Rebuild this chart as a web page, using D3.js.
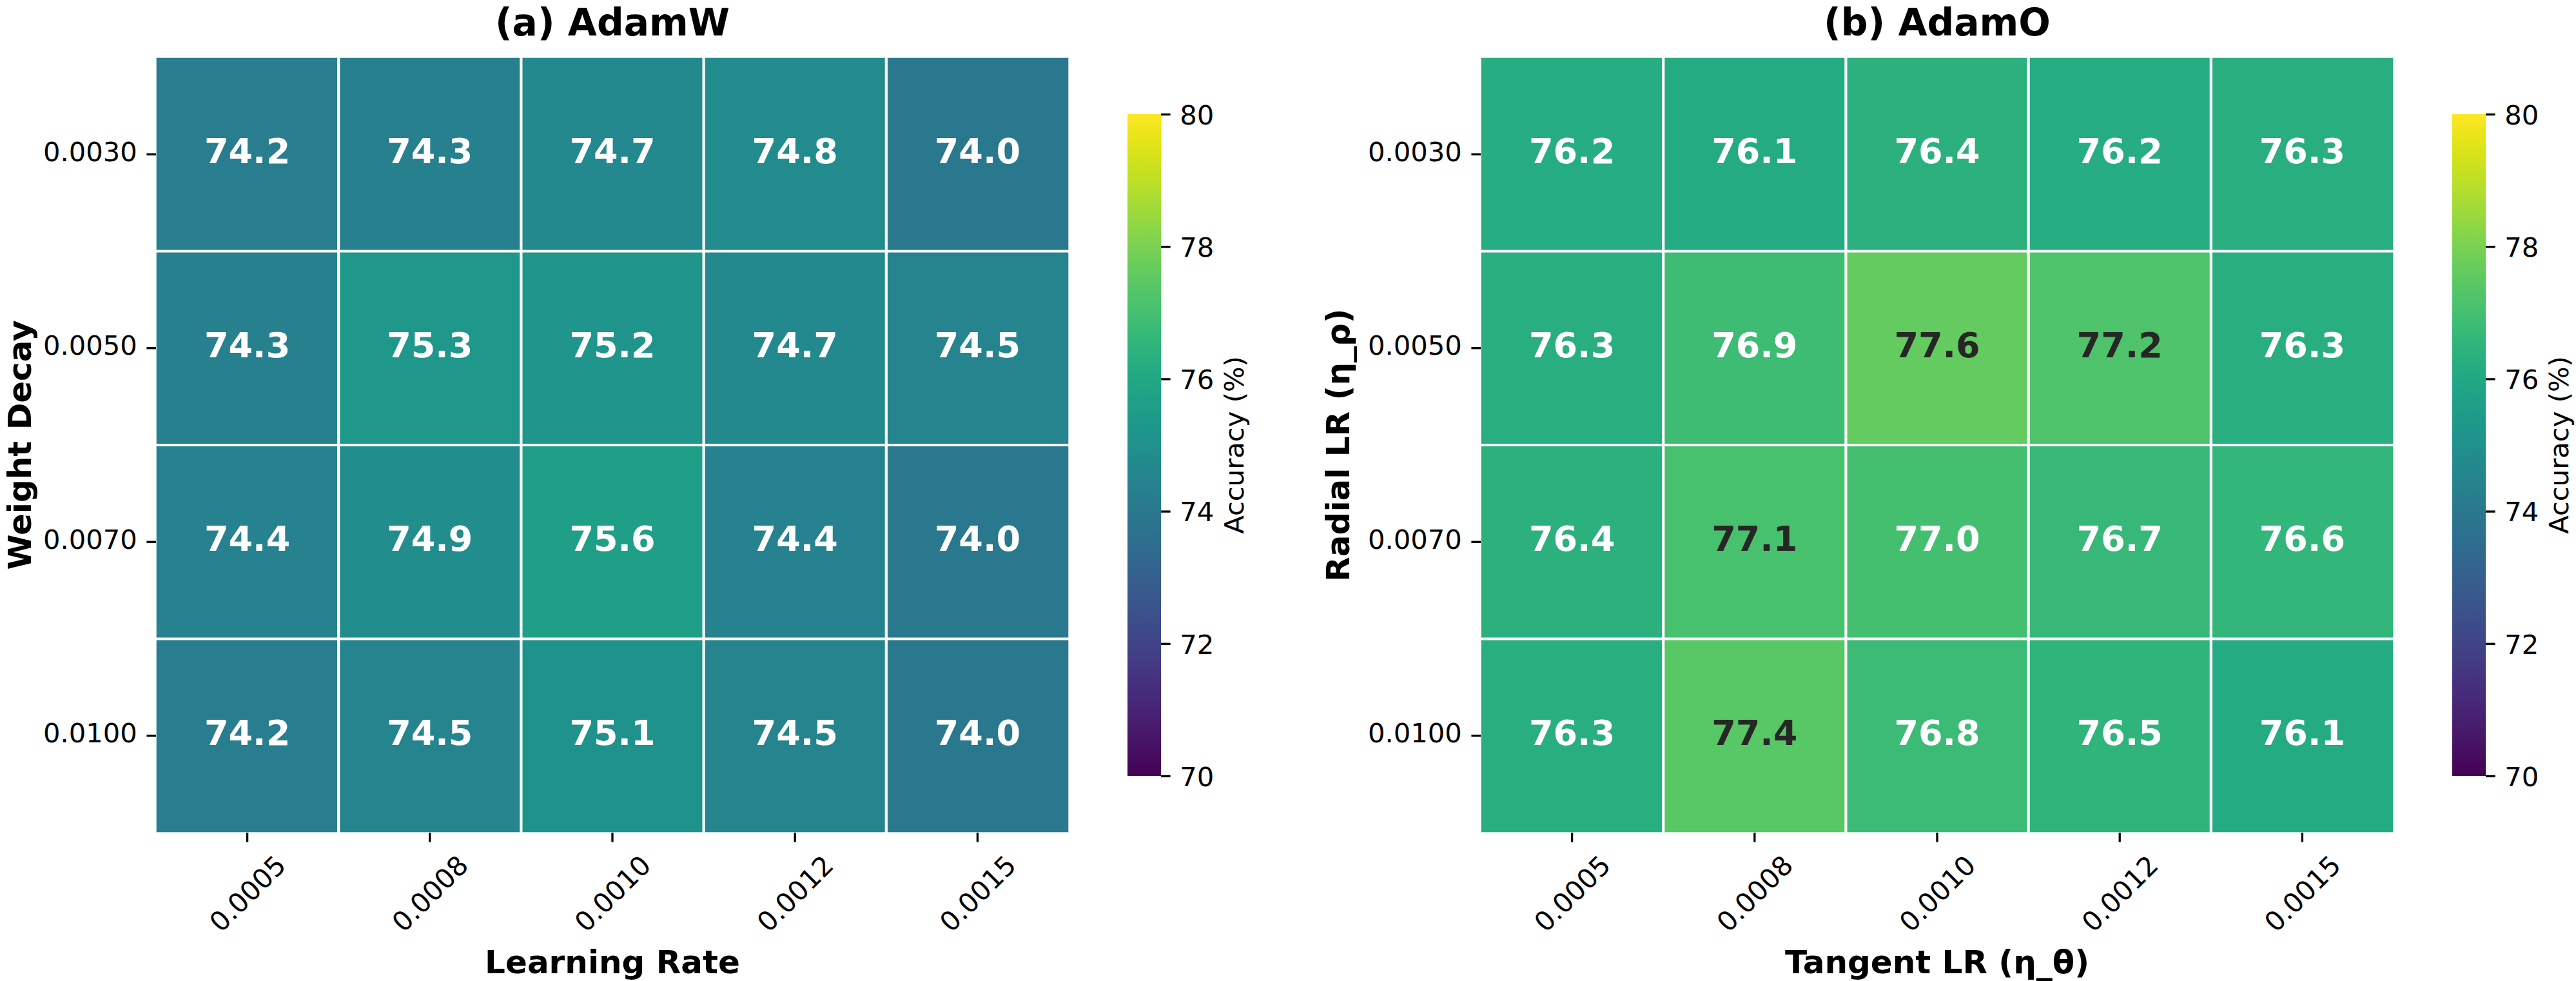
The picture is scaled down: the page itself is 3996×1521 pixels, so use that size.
<!DOCTYPE html>
<html>
<head>
<meta charset="utf-8">
<script src="https://cdn.jsdelivr.net/npm/d3@7"></script>
<style>
  body { margin: 0; background: #fff; }
  svg { display: block; font-family: "DejaVu Sans", sans-serif; }
</style>
</head>
<body>
<div id="chart"></div>
<script>
// Data
let lrLabels = ["0.0005", "0.0008", "0.0010", "0.0012", "0.0015"];
let wdLabels = ["0.0030", "0.0050", "0.0070", "0.0100"];

let adamW = [
    [74.2, 74.3, 74.7, 74.8, 74.0],
    [74.3, 75.3, 75.2, 74.7, 74.5],
    [74.4, 74.9, 75.6, 74.4, 74.0],
    [74.2, 74.5, 75.1, 74.5, 74.0]
];

let adamO = [
    [76.2, 76.1, 76.4, 76.2, 76.3],
    [76.3, 76.9, 77.6, 77.2, 76.3],
    [76.4, 77.1, 77.0, 76.7, 76.6],
    [76.3, 77.4, 76.8, 76.5, 76.1]
];

let colorTicks = [70, 72, 74, 76, 78, 80];
let colorDomain = [70, 80];

// Figure properties (px, figure rendered at 300 dpi)
let width = 3996;
let height = 1521;
let tickLen = 14.6;
let tickFont = 41.7;

let svg = d3.select("#chart")
    .append("svg")
    .attr("width", width)
    .attr("height", height);

let colorScale = d3.scaleSequential(d3.interpolateViridis).domain(colorDomain);

// seaborn style: dark text on light cells
function luminance(c) {
    let rgb = d3.rgb(c);
    let lin = [rgb.r, rgb.g, rgb.b].map((v) => {
        v = v / 255;
        return v <= 0.03928 ? v / 12.92 : Math.pow((v + 0.055) / 1.055, 2.4);
    });
    return 0.2126 * lin[0] + 0.7152 * lin[1] + 0.0722 * lin[2];
}

// shared gradient for both colorbars
let defs = svg.append("defs");
let grad = defs.append("linearGradient")
    .attr("id", "viridis")
    .attr("x1", 0).attr("y1", 1)
    .attr("x2", 0).attr("y2", 0);
d3.range(0, 1.0001, 0.02).forEach((t) => {
    grad.append("stop")
        .attr("offset", t)
        .attr("stop-color", d3.interpolateViridis(t));
});

function drawPanel(p) {
    let g = svg.append("g");

    let x = d3.scaleBand()
        .domain(d3.range(p.xLabels.length))
        .range([p.left, p.left + 1416]);
    let y = d3.scaleBand()
        .domain(d3.range(p.yLabels.length))
        .range([89, 1291]);

    let cells = [];
    p.values.forEach((row, i) => {
        row.forEach((v, j) => cells.push({ row: i, col: j, value: v }));
    });

    g.selectAll("rect.cell")
        .data(cells)
        .join("rect")
        .attr("class", "cell")
        .attr("x", (d) => x(d.col))
        .attr("y", (d) => y(d.row))
        .attr("width", x.bandwidth())
        .attr("height", y.bandwidth())
        .attr("fill", (d) => colorScale(d.value));

    // white grid lines between cells
    d3.range(1, p.xLabels.length).forEach((j) => {
        g.append("line")
            .attr("x1", x(j)).attr("x2", x(j))
            .attr("y1", 89).attr("y2", 1291)
            .attr("stroke", "#fff").attr("stroke-width", 4.2);
    });
    d3.range(1, p.yLabels.length).forEach((i) => {
        g.append("line")
            .attr("x1", p.left).attr("x2", p.left + 1416)
            .attr("y1", y(i)).attr("y2", y(i))
            .attr("stroke", "#fff").attr("stroke-width", 4.2);
    });
    g.append("rect")
        .attr("x", p.left).attr("y", 89)
        .attr("width", 1416).attr("height", 1202)
        .attr("fill", "none")
        .attr("stroke", "#fff").attr("stroke-opacity", 0.7)
        .attr("stroke-width", 2);

    // annotations
    g.selectAll("text.annot")
        .data(cells)
        .join("text")
        .attr("class", "annot")
        .attr("x", (d) => x(d.col) + x.bandwidth() / 2)
        .attr("y", (d) => y(d.row) + y.bandwidth() / 2 + 14)
        .attr("text-anchor", "middle")
        .style("font-size", "54px")
        .style("font-weight", "bold")
        .attr("fill", (d) => luminance(colorScale(d.value)) > 0.403 ? "#262626" : "#ffffff")
        .text((d) => d.value.toFixed(1));

    // y axis
    let yAxis = g.append("g")
        .attr("transform", `translate(${p.left},0)`)
        .call(d3.axisLeft(y).tickSize(tickLen).tickPadding(tickLen).tickFormat((i) => p.yLabels[i]));
    yAxis.select(".domain").remove();
    yAxis.selectAll("line").attr("stroke", "#000").attr("stroke-width", 3.3);
    yAxis.selectAll("text")
        .attr("dy", null)
        .attr("y", 10.5)
        .attr("fill", "#000")
        .style("font-size", tickFont + "px")
        .style("font-family", "DejaVu Sans");

    // x axis with 45 degree labels
    let xAxis = g.append("g")
        .attr("transform", "translate(0,1291)")
        .call(d3.axisBottom(x).tickSize(tickLen).tickFormat((j) => p.xLabels[j]));
    xAxis.select(".domain").remove();
    xAxis.selectAll("line").attr("stroke", "#000").attr("stroke-width", 3.3);
    xAxis.selectAll("text")
        .attr("y", null)
        .attr("dy", null)
        .attr("text-anchor", "middle")
        .attr("transform", "translate(0,94) rotate(-45) translate(0,15.2)")
        .attr("fill", "#000")
        .style("font-size", tickFont + "px")
        .style("font-family", "DejaVu Sans");

    // titles and labels
    let cx = p.left + 708;
    g.append("text")
        .attr("x", cx).attr("y", 55)
        .attr("text-anchor", "middle")
        .style("font-size", "58.3px").style("font-weight", "bold")
        .text(p.title);
    g.append("text")
        .attr("x", cx).attr("y", 1509)
        .attr("text-anchor", "middle")
        .style("font-size", "50px").style("font-weight", "bold")
        .text(p.xTitle);
    g.append("text")
        .attr("transform", `translate(${p.yTitleX},690) rotate(-90)`)
        .attr("text-anchor", "middle")
        .style("font-size", "50px").style("font-weight", "bold")
        .text(p.yTitle);

    // colorbar
    let cbX = p.left + 1507;
    let cbScale = d3.scaleLinear().domain(colorDomain).range([1203, 177]);
    g.append("rect")
        .attr("x", cbX).attr("y", 177)
        .attr("width", 52).attr("height", 1026)
        .attr("fill", "url(#viridis)");
    let cbAxis = g.append("g")
        .attr("transform", `translate(${cbX + 52},0)`)
        .call(d3.axisRight(cbScale).tickValues(colorTicks).tickSize(tickLen).tickPadding(tickLen));
    cbAxis.select(".domain").remove();
    cbAxis.selectAll("line").attr("stroke", "#000").attr("stroke-width", 3.3);
    cbAxis.selectAll("text")
        .attr("dy", null)
        .attr("y", 15.2)
        .attr("fill", "#000")
        .style("font-size", tickFont + "px")
        .style("font-family", "DejaVu Sans");
    g.append("text")
        .attr("transform", `translate(${cbX + 180},690) rotate(-90)`)
        .attr("text-anchor", "middle")
        .style("font-size", tickFont + "px")
        .text("Accuracy (%)");
}

drawPanel({
    left: 242,
    values: adamW,
    xLabels: lrLabels,
    yLabels: wdLabels,
    title: "(a) AdamW",
    xTitle: "Learning Rate",
    yTitle: "Weight Decay",
    yTitleX: 48
});

drawPanel({
    left: 2297,
    values: adamO,
    xLabels: lrLabels,
    yLabels: wdLabels,
    title: "(b) AdamO",
    xTitle: "Tangent LR (η_θ)",
    yTitle: "Radial LR (η_ρ)",
    yTitleX: 2093
});
</script>
</body>
</html>
